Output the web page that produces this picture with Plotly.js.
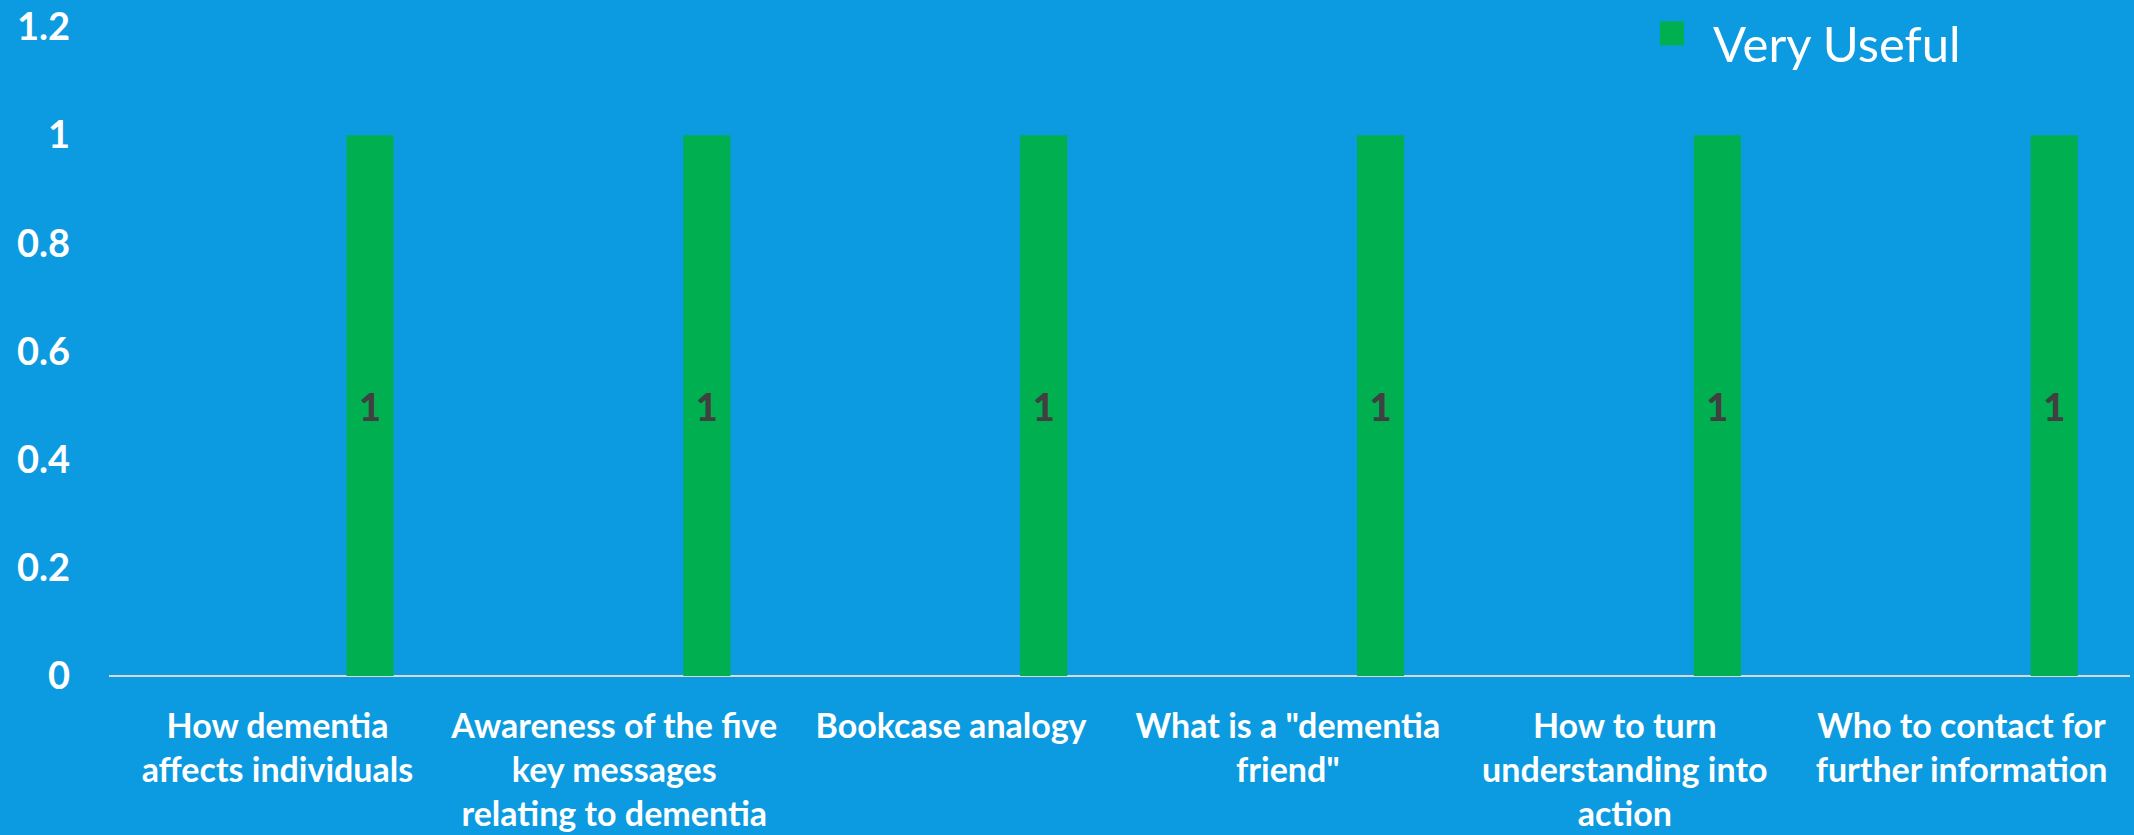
<!DOCTYPE html>
<html>
<head>
<meta charset="utf-8">
<script src="https://cdn.plot.ly/plotly-3.0.1.min.js"></script>
<style>html,body{margin:0;padding:0;background:#0C9BE0;}#chart{width:2134px;height:835px;}</style>
</head>
<body>
<div id="chart"></div>
<script>
const categories = [
  'How dementia<br>affects individuals',
  'Awareness of the five<br>key messages<br>relating to dementia',
  'Bookcase analogy',
  'What is a "dementia<br>friend"',
  'How to turn<br>understanding into<br>action',
  'Who to contact for<br>further information'
];
const veryUseful = [1, 1, 1, 1, 1, 1];
const seriesName = 'Very Useful';
const yTickVals = [0, 0.2, 0.4, 0.6, 0.8, 1, 1.2];
const yTickText = ['0', '0.2', '0.4', '0.6', '0.8', '1', '1.2'];

const bg = '#0C9BE0';
const trace = {
  type: 'bar',
  name: seriesName,
  x: categories,
  y: veryUseful,
  offset: 0.205,
  width: 0.14,
  marker: {color: '#00B050', line: {width: 0}},
  texttemplate: '%{y}',
  textposition: 'inside',
  insidetextanchor: 'middle',
  textangle: 0,
  textfont: {family: 'Lato', size: 38, color: '#404040', weight: 900},
  hoverinfo: 'x+y'
};

const layout = {
  width: 2134,
  height: 835,
  paper_bgcolor: bg,
  plot_bgcolor: bg,
  margin: {l: 109, r: 4, t: 27, b: 159, autoexpand: false},
  font: {family: 'Lato', color: '#FFFFFF'},
  showlegend: true,
  legend: {
    x: 0.7643, xref: 'container', xanchor: 'left',
    y: 0.994, yref: 'container', yanchor: 'top',
    bgcolor: 'rgba(0,0,0,0)',
    font: {family: 'Lato', size: 49, color: '#FFFFFF'},
    itemwidth: 72
  },
  xaxis: {
    type: 'category',
    showgrid: false,
    zeroline: false,
    showline: false,
    ticks: '',
    tickangle: 0,
    automargin: false,
    tickfont: {family: 'Lato', size: 34, color: '#FFFFFF', weight: 700},
    ticklabelstandoff: 27
  },
  yaxis: {
    range: [0, 1.2],
    tickvals: yTickVals,
    ticktext: yTickText,
    showgrid: false,
    zeroline: true,
    zerolinecolor: '#D9D9D9',
    zerolinewidth: 2,
    showline: false,
    ticks: '',
    automargin: false,
    tickfont: {family: 'Lato', size: 38, color: '#FFFFFF', weight: 700},
    ticklabelstandoff: 38
  }
};

Plotly.newPlot('chart', [trace], layout, {displayModeBar: false, staticPlot: true}).then(function () {
  document.querySelectorAll('.legend .legendpoints path').forEach(function (p) {
    p.setAttribute('transform', (p.getAttribute('transform') || '') + ' translate(0,-10) scale(2)');
  });
});
</script>
</body>
</html>
